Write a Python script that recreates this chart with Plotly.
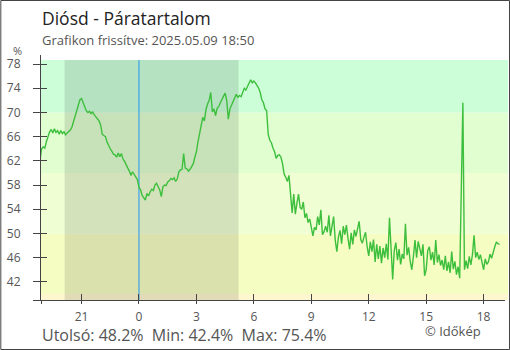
import plotly.graph_objects as go
import pandas as pd

# ---------------- data ----------------
START = "2025-05-08 18:50"
STEP_MINUTES = 5
humidity = [
    62.2, 64.0, 64.3, 64.1, 65.2, 66.0, 66.8, 67.2, 66.6, 67.3, 66.7, 67.0,
    66.4, 67.0, 66.5, 66.8, 66.3, 66.6, 66.9, 67.1, 67.6, 68.5, 69.5, 70.4,
    71.4, 72.1, 72.3, 71.6, 70.7, 70.3, 70.0, 70.2, 69.8, 70.1, 69.6, 69.2,
    69.0, 68.6, 67.9, 66.4, 66.2, 66.0, 65.1, 64.4, 64.0, 63.6, 63.1, 63.0,
    62.6, 63.3, 62.7, 63.2, 62.3, 61.9, 61.2, 60.8, 60.3, 59.6, 60.2, 59.8,
    59.2, 58.9, 57.6, 57.2, 56.3, 55.9, 55.5, 56.6, 56.2, 56.9, 57.3, 57.1,
    58.0, 58.3, 57.8, 57.2, 56.1, 57.7, 58.0, 57.9, 58.5, 58.7, 59.1, 58.9,
    59.2, 58.6, 59.0, 60.2, 60.5, 60.6, 63.2, 60.8, 60.7, 60.3, 60.6, 61.2,
    61.5, 62.6, 63.5, 65.2, 66.6, 67.6, 69.2, 68.6, 70.5, 71.4, 72.0, 73.3,
    70.1, 70.6, 69.5, 70.7, 71.0, 71.6, 72.3, 72.7, 73.2, 72.0, 68.9, 70.6,
    71.2, 71.8, 72.3, 73.0, 72.5, 72.8, 72.6, 73.3, 74.0, 73.7, 74.3, 74.8,
    75.4, 74.9, 75.2, 74.9, 74.5, 74.0, 73.3, 72.1, 71.6, 70.6, 70.3, 66.4,
    65.4, 65.0, 64.1, 63.5, 62.4, 62.9, 63.0, 62.6, 61.5, 59.8, 59.3, 58.6,
    59.6, 56.2, 53.4, 56.5, 53.2, 55.0, 56.5, 54.3, 54.0, 55.2, 52.6, 53.3,
    51.8, 52.4, 50.6, 49.6, 51.0, 50.6, 52.8, 51.4, 53.9, 49.8, 50.3, 51.2,
    50.2, 53.0, 49.6, 51.2, 52.8, 48.9, 47.0, 49.4, 50.5, 48.3, 51.2, 49.8,
    51.4, 49.2, 47.4, 50.1, 48.2, 50.6, 49.5, 50.8, 52.0, 49.0, 48.4, 49.4,
    50.2, 47.8, 46.3, 48.6, 47.0, 49.0, 45.3, 48.2, 45.8, 47.9, 45.1, 47.6,
    46.0, 48.3, 45.7, 52.6, 46.2, 42.4, 47.2, 48.5, 45.6, 47.4, 44.9, 46.6,
    45.8, 51.6, 46.4, 47.7, 45.4, 44.0, 46.2, 48.9, 46.0, 48.7, 47.5, 46.3,
    48.2, 43.0, 44.0, 47.2, 47.8, 45.6, 46.9, 44.8, 48.9, 45.2, 46.5, 44.7,
    45.6, 44.0, 46.3, 43.8, 45.3, 43.5, 47.0, 44.1, 45.4, 43.2, 44.5, 42.6,
    57.2, 71.6, 44.0, 45.5, 44.2, 46.2, 44.8, 46.5, 49.7, 46.0, 46.9, 45.7,
    46.5, 45.1, 44.0, 45.8, 44.9, 45.3, 46.6, 45.9, 47.0, 47.8, 48.6, 48.3, 48.2,
]
times = pd.date_range(START, periods=len(humidity), freq=f"{STEP_MINUTES}min")

x_tick_vals = ["2025-05-08 21:00", "2025-05-09 00:00", "2025-05-09 03:00",
               "2025-05-09 06:00", "2025-05-09 09:00", "2025-05-09 12:00",
               "2025-05-09 15:00", "2025-05-09 18:00"]
x_tick_text = ["21", "0", "3", "6", "9", "12", "15", "18"]
x_range = ["2025-05-08 18:53", "2025-05-09 19:07"]

y_tick_vals = [42, 46, 50, 54, 58, 62, 66, 70, 74, 78]
y_range = [39, 79.5]
band_edges = [39, 40, 50, 60, 70, 78.66]
band_colors = ["#fdf6cf", "#f6fdc3", "#effed3", "#e0fed0", "#ccfed8"]
night = ["2025-05-08 20:07", "2025-05-09 05:12"]
midnight = "2025-05-09 00:00"

title = "Diósd - Páratartalom"
subtitle = "Grafikon frissítve: 2025.05.09 18:50"
stats = "Utolsó: 48.2%  Min: 42.4%  Max: 75.4%"
credit = "© Időkép"

# ---------------- layout helpers ----------------
W, H = 510, 350
L, R, T, B = 40.7, 5, 55, 50
PW, PH = W - L - R, H - T - B
FONT = "Open Sans"


def xp(px):
    return (px - L) / PW


def yp(py):
    return (H - B - py) / PH


fig = go.Figure()
fig.add_trace(go.Scatter(x=times, y=humidity, mode="lines",
                         line=dict(color="#3dbf3d", width=1.4),
                         hoverinfo="skip", showlegend=False))
# invisible trace for the overlay axes (inner tick marks)
fig.add_trace(go.Scatter(x=[times[0]], y=[50], xaxis="x2", yaxis="y2",
                         mode="markers", marker=dict(opacity=0),
                         hoverinfo="skip", showlegend=False))

shapes = []
for i, c in enumerate(band_colors):
    shapes.append(dict(type="rect", xref="paper", yref="y", x0=0, x1=xp(508),
                       y0=band_edges[i], y1=band_edges[i + 1],
                       fillcolor=c, line=dict(width=0), layer="below"))
shapes.append(dict(type="rect", xref="x", yref="y", x0=night[0], x1=night[1],
                   y0=band_edges[0], y1=band_edges[-1],
                   fillcolor="rgba(0,0,0,0.11)", line=dict(width=0), layer="below"))
shapes.append(dict(type="line", xref="x", yref="y", x0=midnight, x1=midnight,
                   y0=band_edges[0], y1=band_edges[-1],
                   line=dict(color="#2196f3", width=1), layer="below"))
# outer frame
shapes.append(dict(type="rect", xref="paper", yref="paper",
                   x0=xp(0.5), x1=xp(W - 0.5), y0=yp(H - 0.5), y1=yp(0.5),
                   line=dict(color="#444", width=1), fillcolor="rgba(0,0,0,0)"))

annotations = [
    dict(text=title, x=xp(40), y=yp(18), xanchor="left", yanchor="middle",
         font=dict(family=FONT, size=17.5, color="#222")),
    dict(text=subtitle, x=xp(40), y=yp(40), xanchor="left", yanchor="middle",
         font=dict(family=FONT, size=13, color="#555")),
    dict(text="%", x=xp(17), y=yp(50.5), xanchor="center", yanchor="middle",
         height=11, font=dict(family=FONT, size=11, color="#555")),
    dict(text=stats, x=xp(40), y=yp(334), xanchor="left", yanchor="middle",
         height=17, font=dict(family=FONT, size=16, color="#555")),
    dict(text=credit, x=xp(483), y=yp(331), xanchor="right", yanchor="middle",
         font=dict(family=FONT, size=13, color="#555")),
]
for a in annotations:
    a.update(xref="paper", yref="paper", showarrow=False)

axis_common = dict(showgrid=False, zeroline=False, tickcolor="#444",
                   tickwidth=1, tickfont=dict(family=FONT, size=12, color="#555"))

fig.update_layout(
    width=W, height=H,
    margin=dict(l=L, r=R, t=T, b=B, pad=0),
    paper_bgcolor="white", plot_bgcolor="white",
    shapes=shapes, annotations=annotations,
    showlegend=False,
    xaxis=dict(type="date", range=x_range, tickmode="array",
               tickvals=[x_range[0]] + x_tick_vals, ticktext=[""] + x_tick_text,
               ticks="outside", ticklen=3, showline=True, linecolor="#444",
               linewidth=1, ticklabelstandoff=3, **axis_common),
    yaxis=dict(range=y_range, tickmode="array",
               tickvals=[y_range[0]] + y_tick_vals,
               ticktext=[""] + [str(v) for v in y_tick_vals],
               ticks="outside", ticklen=7, showline=True, linecolor="#444",
               linewidth=1, ticklabelstandoff=10, **axis_common),
    xaxis2=dict(type="date", overlaying="x", range=x_range, tickmode="array",
                tickvals=x_tick_vals, ticks="inside", ticklen=6,
                showticklabels=False, showline=False, **axis_common),
    yaxis2=dict(overlaying="y", side="left", range=y_range, tickmode="array",
                tickvals=y_tick_vals, ticks="inside", ticklen=6,
                showticklabels=False, showline=False, **axis_common),
)

fig.write_html("out.html", config={"displayModeBar": False},
               post_script="document.body.style.margin='0px';")
